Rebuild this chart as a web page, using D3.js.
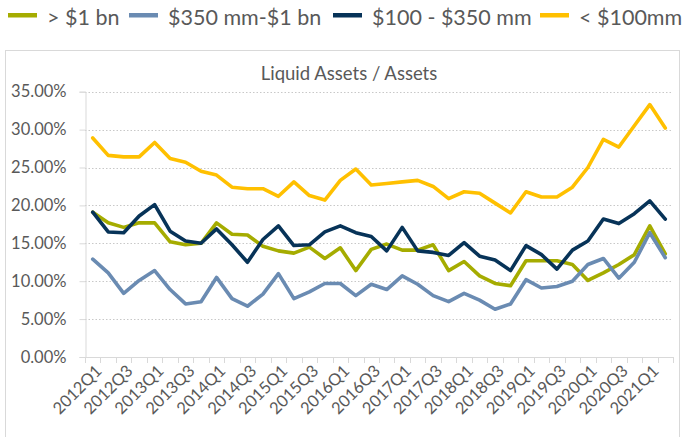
<!DOCTYPE html>
<html>
<head>
<meta charset="utf-8">
<script src="https://cdn.jsdelivr.net/npm/d3@7"></script>
<style>
  html, body { margin: 0; padding: 0; background: #fff; }
  svg { display: block; font-family: Lato, "Open Sans", sans-serif; }
</style>
</head>
<body>
<svg id="chart" width="682" height="437"></svg>
<script>
// Quarterly categories 2012Q1 .. 2021Q2
const quarters = [];
for (let y = 2012; y <= 2021; y++) {
  for (let q = 1; q <= 4; q++) {
    if (y === 2021 && q > 2) break;
    quarters.push(y + "Q" + q);
  }
}

// Liquid assets / assets, percent, by asset-size group
const over1bn = [19.1, 17.7, 17.1, 17.7, 17.7, 15.2, 14.8, 15.0, 17.7, 16.2,
  16.1, 14.6, 14.0, 13.7, 14.5, 13.0, 14.4, 11.4, 14.2, 14.9,
  14.1, 14.1, 14.8, 11.4, 12.6, 10.7, 9.7, 9.4, 12.7, 12.7,
  12.7, 12.2, 10.1, 11.1, 12.2, 13.5, 17.3, 13.6];
const mid350to1bn = [12.9, 11.1, 8.4, 10.1, 11.4, 8.9, 7.0, 7.3, 10.5, 7.7,
  6.7, 8.3, 11.0, 7.7, 8.6, 9.7, 9.7, 8.1, 9.6, 8.9,
  10.7, 9.6, 8.1, 7.3, 8.4, 7.5, 6.3, 7.0, 10.2, 9.1,
  9.3, 10.0, 12.2, 13.0, 10.4, 12.5, 16.4, 13.1];
const mid100to350 = [19.1, 16.5, 16.4, 18.6, 20.1, 16.6, 15.3, 15.0, 16.9, 14.8,
  12.5, 15.5, 17.3, 14.7, 14.8, 16.5, 17.3, 16.4, 15.9, 14.0,
  17.1, 14.0, 13.8, 13.4, 15.1, 13.3, 12.8, 11.4, 14.7, 13.5,
  11.6, 14.1, 15.3, 18.2, 17.6, 18.9, 20.6, 18.2];
const under100mm = [28.9, 26.6, 26.4, 26.4, 28.3, 26.2, 25.7, 24.5, 24.0, 22.4,
  22.2, 22.2, 21.2, 23.1, 21.3, 20.7, 23.3, 24.8, 22.7, 22.9,
  23.1, 23.3, 22.5, 20.9, 21.8, 21.6, 20.3, 19.0, 21.8, 21.1,
  21.1, 22.4, 25.0, 28.7, 27.7, 30.5, 33.3, 30.2];

const seriesNames = ["> $1 bn", "$350 mm-$1 bn", "$100 - $350 mm", "< $100mm"];
const seriesColors = ["#a5ac00", "#6a8bb2", "#073358", "#ffc000"];
const yTicks = [0, 5, 10, 15, 20, 25, 30, 35];

const series = [over1bn, mid350to1bn, mid100to350, under100mm].map((vals, i) => ({
  name: seriesNames[i], color: seriesColors[i], values: vals
}));

const svg = d3.select("#chart");
const textColor = "#595959";

// Outer chart frame
svg.append("rect")
  .attr("x", 5.5).attr("y", 50.5)
  .attr("width", 674).attr("height", 400)
  .attr("fill", "none").attr("stroke", "#d9d9d9").attr("stroke-width", 1);

const plot = { left: 85, right: 673, top: 91.7, bottom: 357 };

const x = d3.scaleBand().domain(quarters).range([plot.left, plot.right]).paddingInner(0).paddingOuter(0);
const y = d3.scaleLinear().domain([0, 35]).range([plot.bottom, plot.top]);

// Horizontal dotted gridlines
svg.append("g")
  .selectAll("line")
  .data(yTicks.filter(d => d > 0))
  .join("line")
  .attr("x1", plot.left).attr("x2", plot.right)
  .attr("y1", d => Math.round(y(d)) + 0.5).attr("y2", d => Math.round(y(d)) + 0.5)
  .attr("stroke", "#c8c8c8").attr("stroke-width", 1)
  .attr("stroke-dasharray", "1.5,2");

// Y axis
const yAxis = svg.append("g")
  .attr("transform", `translate(${plot.left + 0.5},0)`)
  .call(d3.axisLeft(y).tickValues(yTicks).tickSize(6).tickPadding(13)
    .tickFormat(d => d.toFixed(2) + "%"));
yAxis.select(".domain").attr("stroke", "#d9d9d9");
yAxis.selectAll(".tick line").attr("stroke", "#d9d9d9");
yAxis.selectAll(".tick text")
  .attr("fill", textColor).attr("font-size", 16.5)
  .attr("font-family", "Lato, sans-serif");

// X axis: a tick mark at every category boundary, labels every other quarter
const boundaries = quarters.map(q => x(q)).concat([plot.right]);
svg.append("line")
  .attr("x1", plot.left).attr("x2", plot.right)
  .attr("y1", plot.bottom + 0.5).attr("y2", plot.bottom + 0.5)
  .attr("stroke", "#d9d9d9");
svg.append("g").selectAll("line")
  .data(boundaries)
  .join("line")
  .attr("x1", d => Math.round(d) + 0.5).attr("x2", d => Math.round(d) + 0.5)
  .attr("y1", plot.bottom).attr("y2", plot.bottom + 6)
  .attr("stroke", "#d9d9d9");

svg.append("g").selectAll("text")
  .data(quarters.filter((q, i) => i % 2 === 0))
  .join("text")
  .attr("transform", q => `translate(${x(q) + x.bandwidth() / 2 + 6},${plot.bottom + 11}) rotate(-45)`)
  .attr("text-anchor", "end")
  .attr("dy", "0.35em")
  .attr("fill", textColor)
  .attr("font-size", 16.5)
  .text(q => q);

// Title
svg.append("text")
  .attr("x", 349).attr("y", 80)
  .attr("text-anchor", "middle")
  .attr("fill", textColor)
  .attr("font-size", 18.5)
  .text("Liquid Assets / Assets");

// Series lines
const line = d3.line()
  .x((d, i) => x(quarters[i]) + x.bandwidth() / 2)
  .y(d => y(d));

svg.append("g").selectAll("path")
  .data(series)
  .join("path")
  .attr("d", s => line(s.values))
  .attr("fill", "none")
  .attr("stroke", s => s.color)
  .attr("stroke-width", 3.6)
  .attr("stroke-linejoin", "round")
  .attr("stroke-linecap", "round");

// Legend
const legendX = [8, 129, 333, 540];
const legend = svg.append("g").selectAll("g")
  .data(series)
  .join("g")
  .attr("transform", (s, i) => `translate(${legendX[i]},0)`);
legend.append("rect")
  .attr("x", 0).attr("y", 13).attr("width", 29).attr("height", 4.5)
  .attr("fill", s => s.color);
legend.append("text")
  .attr("x", 39).attr("y", 17)
  .attr("dy", "0.35em")
  .attr("fill", textColor)
  .attr("font-size", 21.5)
  .text(s => s.name);
</script>
</body>
</html>
